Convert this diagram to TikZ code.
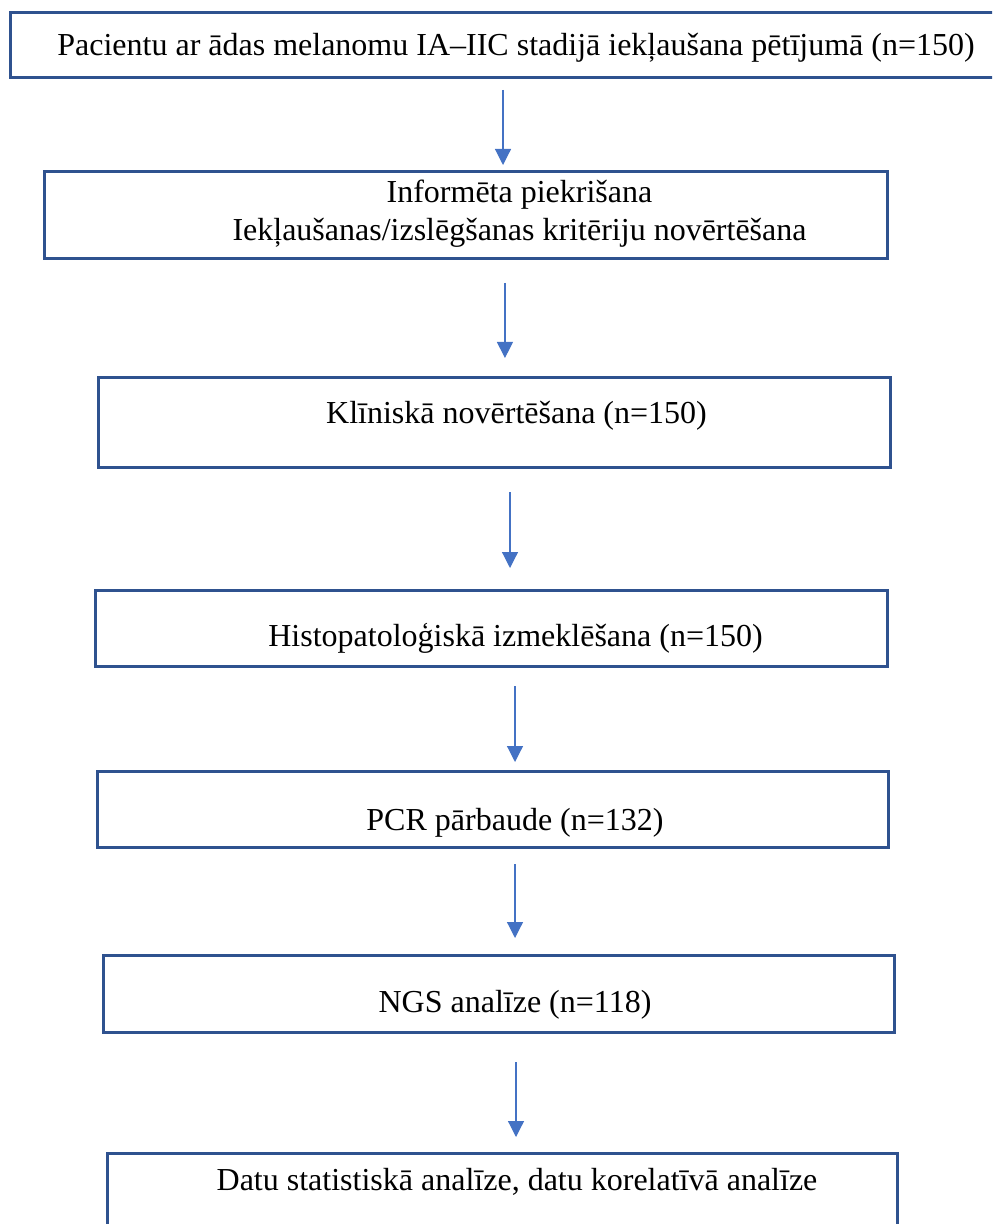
\documentclass[tikz,border=0pt]{standalone}
\usepackage{fontspec}
\setmainfont{Liberation Serif}
\usepackage{tikz}
\usetikzlibrary{arrows.meta,positioning,calc}
\definecolor{boxBlue}  {RGB}{47, 82,143}
\definecolor{arrowBlue}{RGB}{68,114,196}

\begin{document}
\begin{tikzpicture}[x=0.5pt,y=-0.5pt,
          box/.style={rectangle,draw=boxBlue,line width=1.5pt,
                      inner sep=0pt,outer sep=0pt},
          txt/.style={font=\fontsize{16}{19}\selectfont,inner sep=0pt,
                      anchor=base,align=center},
          arr/.style={arrowBlue,line width=0.6pt,
                      -{Triangle[length=8pt,width=8pt]}}]
          \useasboundingbox (0,0) rectangle (992,1224);
          \clip (0,0) rectangle (992,1224);
          % boxes
          \node[box,minimum width=510pt,minimum height=32.5pt] (b1) at (520,45.5) {};
          \node[box,minimum width=421.25pt,minimum height=43.5pt] (b2) at (465.75,215.5) {};
          \node[box,minimum width=396pt,minimum height=44.5pt] (b3) at (494,422.5) {};
          \node[box,minimum width=396pt,minimum height=38pt] (b4) at (491,628) {};
          \node[box,minimum width=395.5pt,minimum height=38pt] (b5) at (492.5,809) {};
          \node[box,minimum width=395.5pt,minimum height=38.5pt] (b6) at (498.5,993.5) {};
          \node[box,minimum width=395pt,minimum height=43.5pt] (b7) at (502,1196.5) {};
          % texts
          \node[txt] (t1) at (516,56) {Pacientu ar ādas melanomu IA–IIC stadijā iekļaušana pētījumā (n=150)};
          \node[txt,anchor=north] (t2) at (519.5,180) {Informēta piekrišana\\Iekļaušanas/izslēgšanas kritēriju novērtēšana};
          \node[txt] (t3) at (516.5,423) {Klīniskā novērtēšana (n=150)};
          \node[txt] (t4) at (515.5,646) {Histopatoloģiskā izmeklēšana (n=150)};
          \node[txt] (t5) at (515,830) {PCR pārbaude (n=132)};
          \node[txt] (t6) at (515,1012) {NGS analīze (n=118)};
          \node[txt] (t7) at (517,1190) {Datu statistiskā analīze, datu korelatīvā analīze};
          % arrows
          \draw[arr,shorten <=6pt,shorten >=3.5pt]
            ([xshift=-8.5pt]b1.south) -- ([xshift=-8.5pt]b1.south |- b2.north);
          \draw[arr,shorten <=12pt,shorten >=10pt]
            ([xshift=19.6pt]b2.south) -- ([xshift=19.6pt]b2.south |- b3.north);
          \draw[arr,shorten <=12.5pt,shorten >=11pt]
            ([xshift=8pt]b3.south) -- ([xshift=8pt]b3.south |- b4.north);
          \draw[arr,shorten <=10pt,shorten >=4.5pt]
            ([xshift=12pt]b4.south) -- ([xshift=12pt]b4.south |- b5.north);
          \draw[arr,shorten <=8.5pt,shorten >=8.5pt]
            ([xshift=11.25pt]b5.south) -- ([xshift=11.25pt]b5.south |- b6.north);
          \draw[arr,shorten <=15pt,shorten >=8pt]
            ([xshift=8.75pt]b6.south) -- ([xshift=8.75pt]b6.south |- b7.north);
        \end{tikzpicture}
\end{document}
